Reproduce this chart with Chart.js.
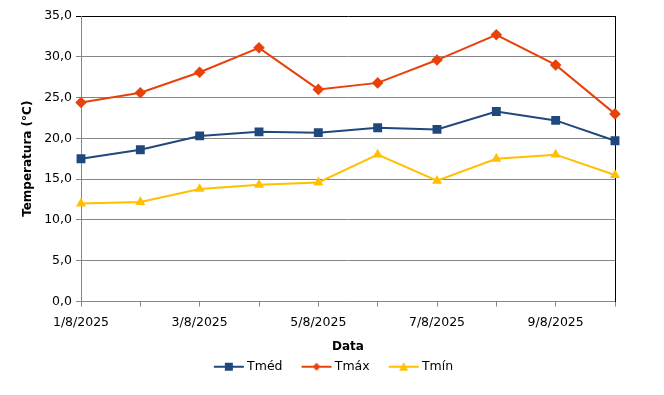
<!DOCTYPE html>
<html>
<head>
<meta charset="utf-8">
<script src="https://cdn.jsdelivr.net/npm/chart.js@4"></script>
<style>
  html, body { margin: 0; padding: 0; background: #fff; }
  #wrap { width: 664px; height: 395px; }
</style>
</head>
<body>
<div id="wrap"><canvas id="tempChart" width="664" height="395"></canvas></div>
<script>
const datas = ['1/8/2025', '2/8/2025', '3/8/2025', '4/8/2025', '5/8/2025',
               '6/8/2025', '7/8/2025', '8/8/2025', '9/8/2025', '10/8/2025'];
const tMed = [17.5, 18.6, 20.3, 20.8, 20.7, 21.3, 21.1, 23.3, 22.2, 19.7];
const tMax = [24.4, 25.6, 28.1, 31.1, 26.0, 26.8, 29.6, 32.7, 29.0, 23.0];
const tMin = [12.0, 12.2, 13.8, 14.3, 14.6, 18.0, 14.8, 17.5, 18.0, 15.5];
const yTicks = [0, 5, 10, 15, 20, 25, 30, 35];

const FONT = 'DejaVu Sans, Verdana, sans-serif';
const GRID = '#868686';

// legenda: linha + marcador desenhados num canvas pequeno
function legendIcon(color, shape) {
    const c = document.createElement('canvas');
    c.width = 48; c.height = 12;
    const g = c.getContext('2d');
    g.strokeStyle = color; g.fillStyle = color; g.lineWidth = 2;
    g.beginPath(); g.moveTo(17, 6); g.lineTo(47, 6); g.stroke();
    g.beginPath();
    const cx = 32;
    if (shape === 'rect') {
        g.rect(cx - 4, 2, 8, 8);
    } else if (shape === 'diamond') {
        g.moveTo(cx, 2); g.lineTo(cx + 4, 6); g.lineTo(cx, 10); g.lineTo(cx - 4, 6); g.closePath();
    } else {
        g.moveTo(cx, 1.5); g.lineTo(cx + 4.5, 10); g.lineTo(cx - 4.5, 10); g.closePath();
    }
    g.fill();
    return c;
}

const series = [
    { label: 'Tméd', data: tMed, color: '#1F497D', pointStyle: 'rect', radius: 6.3, shape: 'rect' },
    { label: 'Tmáx', data: tMax, color: '#E8420C', pointStyle: 'rectRot', radius: 5.8, shape: 'diamond' },
    { label: 'Tmín', data: tMin, color: '#FFC000', pointStyle: 'triangle', radius: 5.8, shape: 'tri' }
];

const ctx = document.getElementById('tempChart').getContext('2d');
new Chart(ctx, {
    type: 'line',
    data: {
        labels: datas,
        datasets: series.map(s => ({
            label: s.label,
            data: s.data,
            borderColor: s.color,
            backgroundColor: s.color,
            borderWidth: 2,
            pointStyle: s.pointStyle,
            pointRadius: s.radius,
            pointBorderWidth: 0,
            pointBackgroundColor: s.color,
            tension: 0,
            fill: false,
            legendIcon: legendIcon(s.color, s.shape)
        }))
    },
    options: {
        responsive: false,
        animation: false,
        layout: { padding: { top: 16, left: 0, right: 10, bottom: 12 } },
        plugins: {
            tooltip: { enabled: false },
            legend: {
                position: 'bottom',
                labels: {
                    usePointStyle: true,
                    pointStyleWidth: 40,
                    padding: 6,
                    color: '#000',
                    font: { family: FONT, size: 12.5 },
                    generateLabels(chart) {
                        return chart.data.datasets.map((ds, i) => ({
                            text: ds.label,
                            pointStyle: ds.legendIcon,
                            fillStyle: ds.borderColor,
                            strokeStyle: ds.borderColor,
                            lineWidth: 0,
                            fontColor: '#000',
                            hidden: false,
                            datasetIndex: i
                        }));
                    }
                }
            }
        },
        scales: {
            x: {
                offset: false,
                afterFit(scale) { scale.height = 53; },
                grid: { drawOnChartArea: false, drawTicks: true, tickLength: 5, color: GRID },
                border: { color: GRID, width: 1 },
                ticks: {
                    autoSkip: false,
                    maxRotation: 0,
                    padding: 9,
                    color: '#000',
                    font: { family: FONT, size: 12.5 },
                    callback(v, i) { return i % 2 === 0 ? datas[i] : ''; }
                },
                title: {
                    display: true,
                    text: 'Data',
                    color: '#000',
                    padding: { top: 0, bottom: 0 },
                    font: { family: FONT, size: 12, weight: 'bold' }
                }
            },
            y: {
                min: 0,
                max: 35,
                afterFit(scale) { scale.width = 81; },
                afterBuildTicks(scale) { scale.ticks = yTicks.map(v => ({ value: v })); },
                grid: {
                    color: c => (c.tick && c.tick.value === 35 ? '#000' : GRID),
                    tickLength: 5,
                    drawTicks: true
                },
                border: { color: GRID, width: 1 },
                ticks: {
                    padding: 4,
                    color: '#000',
                    font: { family: FONT, size: 12.5 },
                    callback: v => v.toFixed(1).replace('.', ',')
                },
                title: {
                    display: true,
                    text: 'Temperatura (°C)',
                    color: '#000',
                    padding: { top: 21, bottom: 0 },
                    font: { family: FONT, size: 12, weight: 'bold' }
                }
            },
            yRight: {
                position: 'right',
                min: 0,
                max: 35,
                afterFit(scale) { scale.width = 39; },
                grid: { display: false },
                border: { color: '#000', width: 1 },
                ticks: { display: false }
            }
        }
    }
});
</script>
</body>
</html>
